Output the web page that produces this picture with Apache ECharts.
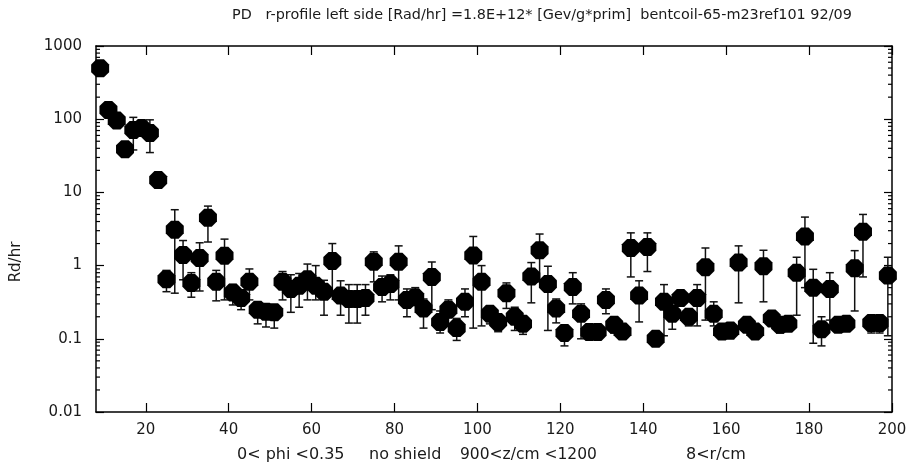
<!DOCTYPE html>
<html><head><meta charset="utf-8">
<script src="https://cdn.jsdelivr.net/npm/echarts@6/dist/echarts.min.js"></script>
<style>html,body{margin:0;padding:0;background:#fff}#c{width:912px;height:468px}</style>
</head><body><div id="c"></div>
<script>
var rValues = [9,11,13,15,17,19,21,23,25,27,29,31,33,35,37,39,41,43,45,47,49,51,53,55,57,59,61,63,65,67,69,71,73,75,77,79,81,83,85,87,89,91,93,95,97,99,101,103,105,107,109,111,113,115,117,119,121,123,125,127,129,131,133,135,137,139,141,143,145,147,149,151,153,155,157,159,161,163,165,167,169,171,173,175,177,179,181,183,185,187,189,191,193,195,197,199];
var rate = [495,134,96,39,71,76,65,14.8,0.65,3.1,1.4,0.58,1.27,4.5,0.6,1.36,0.43,0.36,0.6,0.25,0.235,0.23,0.6,0.48,0.53,0.65,0.53,0.44,1.16,0.39,0.35,0.35,0.36,1.13,0.51,0.56,1.13,0.34,0.37,0.26,0.7,0.17,0.25,0.14,0.32,1.37,0.6,0.22,0.17,0.42,0.2,0.16,0.71,1.62,0.56,0.26,0.12,0.51,0.22,0.124,0.124,0.34,0.155,0.126,1.74,0.39,1.8,0.1,0.32,0.22,0.36,0.2,0.36,0.95,0.22,0.126,0.13,1.1,0.155,0.126,0.98,0.19,0.155,0.16,0.8,2.5,0.5,0.135,0.48,0.155,0.16,0.92,2.9,0.165,0.165,0.73];
var rateHigh = [520,140,100,41,106,80,98,15.5,0.86,5.8,2.2,0.8,2.05,6.5,0.86,2.3,0.55,0.45,0.9,0.3,0.3,0.28,0.83,0.75,0.78,1.05,1.0,0.63,2.0,0.62,0.55,0.55,0.55,1.54,0.72,0.75,1.86,0.48,0.5,0.35,1.12,0.24,0.34,0.19,0.48,2.5,1.0,0.28,0.2,0.58,0.27,0.2,1.1,2.7,0.98,0.35,0.14,0.8,0.3,0.14,0.14,0.48,0.18,0.14,2.8,0.62,2.8,0.11,0.55,0.3,0.42,0.24,0.55,1.74,0.32,0.14,0.15,1.86,0.18,0.14,1.62,0.22,0.18,0.18,1.3,4.6,0.89,0.2,0.8,0.18,0.18,1.6,5.0,0.2,0.2,1.3];
var rateLow = [470,128,92,37,38,72,35,14,0.44,0.42,0.64,0.37,0.45,2.1,0.33,0.34,0.29,0.25,0.34,0.16,0.145,0.14,0.34,0.23,0.27,0.34,0.34,0.21,0.42,0.21,0.164,0.164,0.21,0.6,0.32,0.34,0.34,0.2,0.3,0.14,0.25,0.12,0.15,0.095,0.2,0.14,0.15,0.16,0.125,0.26,0.13,0.115,0.31,0.6,0.13,0.165,0.08,0.3,0.1,0.1,0.1,0.22,0.12,0.1,0.7,0.17,0.83,0.09,0.11,0.135,0.3,0.15,0.15,0.18,0.15,0.1,0.1,0.31,0.13,0.11,0.32,0.16,0.12,0.13,0.21,0.5,0.087,0.08,0.18,0.13,0.13,0.24,0.7,0.12,0.12,0.11];
var xTickValues = [20,40,60,80,100,120,140,160,180,200];
var yMinorTicks = [0.02,0.03,0.04,0.05,0.06,0.07,0.08,0.09,0.2,0.3,0.4,0.5,0.6,0.7,0.8,0.9,2,3,4,5,6,7,8,9,20,30,40,50,60,70,80,90,200,300,400,500,600,700,800,900];
var titleText = 'PD   r-profile left side [Rad/hr] =1.8E+12* [Gev/g*prim]  bentcoil-65-m23ref101 92/09';
var yTitle = 'Rd/hr';
var bottomTexts = ['0< phi <0.35', 'no shield', '900<z/cm <1200', '8<r/cm'];

var FONT = 'DejaVu Sans';
var TXT = '#1a1a1a';
var X_MIN = 8, X_MAX = 200;
var chart = echarts.init(document.getElementById('c'), null, {renderer: 'canvas'});

var pts = rValues.map(function (r, i) { return [r, rate[i]]; });
var errs = rValues.map(function (r, i) { return [r, rateLow[i], rateHigh[i]]; });

var axisLine = {show: true, lineStyle: {color: '#000', width: 1.5}};
var xAxisBase = {
  type: 'value', min: X_MIN, max: X_MAX, splitLine: {show: false},
  axisLine: axisLine,
  axisTick: {show: true, inside: true, length: 9, lineStyle: {color: '#000', width: 1.2}, customValues: xTickValues}
};
var yAxisBase = {
  type: 'log', logBase: 10, min: 0.01, max: 1000, splitLine: {show: false},
  axisLine: axisLine,
  axisTick: {show: true, inside: true, length: 8, lineStyle: {color: '#000', width: 1.2}}
};

var octagon = 'path://M29,0L71,0L100,29L100,71L71,100L29,100L0,71L0,29Z';
function f(sz) { return sz + 'px "' + FONT + '"'; }
function bottomLabel(txt, x, sz) {
  return {type: 'text', x: x, y: 455, style: {text: txt, fill: TXT, font: f(sz), align: 'left', verticalAlign: 'middle'}};
}

chart.setOption({
  animation: false,
  backgroundColor: '#fff',
  textStyle: {fontFamily: FONT},
  grid: {left: 96, right: 20, top: 46, bottom: 56, containLabel: false},
  xAxis: [
    Object.assign({}, xAxisBase, {position: 'bottom',
      axisLabel: {show: true, customValues: xTickValues, color: TXT, fontSize: 15, fontFamily: FONT, margin: 11}}),
    Object.assign({}, xAxisBase, {position: 'top', axisLabel: {show: false}})
  ],
  yAxis: [
    Object.assign({}, yAxisBase, {position: 'left',
      axisLabel: {show: true, color: TXT, fontSize: 15, fontFamily: FONT, margin: 14,
        formatter: function (v) { return String(+v.toPrecision(6)); }}}),
    Object.assign({}, yAxisBase, {position: 'right', axisLabel: {show: false}})
  ],
  graphic: [
    {type: 'text', left: 232, top: 8, style: {text: titleText, fill: TXT, font: f(14.4)}},
    {type: 'text', x: 16, y: 262, rotation: Math.PI / 2, style: {text: yTitle, fill: TXT, font: f(15), align: 'center', verticalAlign: 'middle'}},
    bottomLabel(bottomTexts[0], 237, 16),
    bottomLabel(bottomTexts[1], 369, 16),
    bottomLabel(bottomTexts[2], 460, 15.5),
    bottomLabel(bottomTexts[3], 686, 16)
  ],
  series: [
    {
      type: 'custom', xAxisIndex: 0, yAxisIndex: 0, data: yMinorTicks, clip: false, silent: true, z: 1,
      renderItem: function (params, api) {
        var v = api.value(0);
        var l = api.coord([X_MIN, v]);
        var r = api.coord([X_MAX, v]);
        var st = {stroke: '#000', lineWidth: 1.2};
        return {type: 'group', children: [
          {type: 'line', shape: {x1: l[0], y1: l[1], x2: l[0] + 4, y2: l[1]}, style: st},
          {type: 'line', shape: {x1: r[0] - 4, y1: r[1], x2: r[0], y2: r[1]}, style: st}
        ]};
      },
      encode: {y: 0}
    },
    {
      type: 'custom', xAxisIndex: 0, yAxisIndex: 0, data: errs, clip: false, silent: true, z: 2,
      renderItem: function (params, api) {
        var x = api.value(0);
        var lo = api.coord([x, api.value(1)]);
        var hi = api.coord([x, api.value(2)]);
        var c = 4;
        var st = {stroke: '#111', lineWidth: 1.5};
        return {type: 'group', children: [
          {type: 'line', shape: {x1: lo[0], y1: lo[1], x2: hi[0], y2: hi[1]}, style: st},
          {type: 'line', shape: {x1: hi[0] - c, y1: hi[1], x2: hi[0] + c, y2: hi[1]}, style: st},
          {type: 'line', shape: {x1: lo[0] - c, y1: lo[1], x2: lo[0] + c, y2: lo[1]}, style: st}
        ]};
      },
      encode: {x: 0, y: [1, 2]}
    },
    {
      type: 'scatter', xAxisIndex: 0, yAxisIndex: 0, data: pts, symbol: octagon, symbolSize: 18,
      itemStyle: {color: '#000', opacity: 1}, z: 3, silent: true, clip: false
    }
  ]
});
</script></body></html>
